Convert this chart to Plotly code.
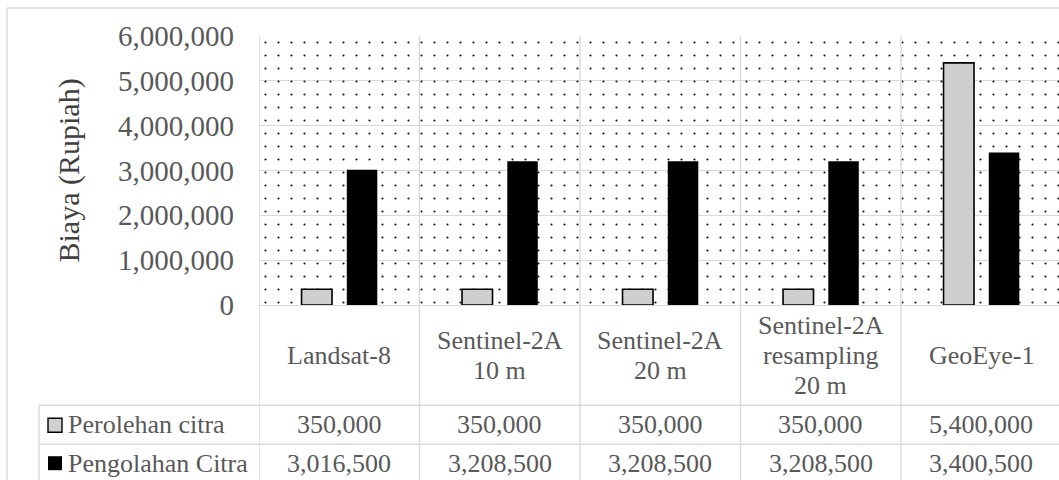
import plotly.graph_objects as go

categories = ["Landsat-8", "Sentinel-2A<br>10 m", "Sentinel-2A<br>20 m",
              "Sentinel-2A<br>resampling<br>20 m", "GeoEye-1"]
series_names = ["Perolehan citra", "Pengolahan Citra"]
perolehan = [350000, 350000, 350000, 350000, 5400000]
pengolahan = [3016500, 3208500, 3208500, 3208500, 3400500]
y_ticks = [0, 1000000, 2000000, 3000000, 4000000, 5000000, 6000000]
y_title = "Biaya (Rupiah)"

FONT = "Liberation Serif"
GRID = "#d9d9d9"
TXT = "#595959"
GRAY = "#d0cece"

W, H = 1059, 480
L, T, B_PX = 259, 36, 305.5
CAT_W = 160.5
PW = W - L
PH = B_PX - T
LINE_H = 30


def px_x(px):
    return (px - L) / PW


def px_y(py):
    return (B_PX - py) / PH


n = len(categories)
xs = list(range(n))
ymax = y_ticks[-1]

fig = go.Figure()

# dotted background pattern covering the plot area
fig.add_trace(go.Bar(
    x=[(n - 1) / 2], y=[ymax], width=[n], base=0,
    marker=dict(color="rgba(0,0,0,0)", line=dict(width=0),
                pattern=dict(shape=".", size=13, solidity=0.022,
                             fgcolor="#111111", fgopacity=1, fillmode="overlay")),
    hoverinfo="skip", showlegend=False,
))

fig.add_trace(go.Bar(
    x=xs, y=perolehan, name=series_names[0], width=0.19, offset=-0.235,
    marker=dict(color=GRAY, line=dict(color="black", width=1.6)),
    showlegend=False,
))
fig.add_trace(go.Bar(
    x=xs, y=pengolahan, name=series_names[1], width=0.19, offset=0.047,
    marker=dict(color="black", line=dict(width=0)),
    showlegend=False,
))

shapes = []
line_style = dict(color=GRID, width=1.4)
# outer chart border
shapes.append(dict(type="line", xref="paper", yref="paper",
                   x0=px_x(7), x1=px_x(1070), y0=px_y(8), y1=px_y(8), line=line_style))
shapes.append(dict(type="line", xref="paper", yref="paper",
                   x0=px_x(7), x1=px_x(7), y0=px_y(8), y1=px_y(490), line=line_style))
# vertical category separators (plot + table)
for i in range(n):
    shapes.append(dict(type="line", xref="x", yref="paper",
                       x0=i - 0.5, x1=i - 0.5, y0=1, y1=px_y(490), line=line_style))
# table horizontal lines
for py in (406, 445):
    shapes.append(dict(type="line", xref="paper", yref="paper",
                       x0=px_x(39), x1=px_x(1070), y0=px_y(py), y1=px_y(py), line=line_style))
shapes.append(dict(type="line", xref="paper", yref="paper",
                   x0=px_x(39), x1=px_x(39), y0=px_y(406), y1=px_y(490), line=line_style))
# legend keys
shapes.append(dict(type="rect", xref="paper", yref="paper",
                   x0=px_x(48), x1=px_x(62), y0=px_y(419), y1=px_y(433),
                   fillcolor=GRAY, line=dict(color="black", width=1.4)))
shapes.append(dict(type="rect", xref="paper", yref="paper",
                   x0=px_x(48), x1=px_x(62), y0=px_y(457), y1=px_y(471),
                   fillcolor="black", line=dict(color="black", width=0)))

annotations = []
annotations.append(dict(text=y_title, xref="paper", yref="paper",
                        x=px_x(68), y=0.5, textangle=-90, showarrow=False,
                        xanchor="center", yanchor="middle",
                        font=dict(family=FONT, size=30, color="#404040")))
cat_center = (B_PX + 406) / 2
row_y = [px_y(425.5), px_y(464.5)]
for i, c in enumerate(categories):
    lines = c.split("<br>")
    for k, ln in enumerate(lines):
        py = cat_center + (k - (len(lines) - 1) / 2) * LINE_H
        annotations.append(dict(text=ln, xref="x", yref="paper", x=i, y=px_y(py),
                                showarrow=False, xanchor="center", yanchor="middle",
                                font=dict(family=FONT, size=26, color=TXT)))
    for r, vals in enumerate((perolehan, pengolahan)):
        annotations.append(dict(text=f"{vals[i]:,}", xref="x", yref="paper", x=i, y=row_y[r],
                                showarrow=False, xanchor="center", yanchor="middle",
                                font=dict(family=FONT, size=26, color=TXT)))
for r, name in enumerate(series_names):
    annotations.append(dict(text=name, xref="paper", yref="paper", x=px_x(66), y=row_y[r],
                            showarrow=False, xanchor="left", yanchor="middle",
                            font=dict(family=FONT, size=26, color=TXT)))

fig.update_layout(
    width=W, height=H,
    margin=dict(l=L, r=0, t=T, b=H - B_PX, pad=0),
    paper_bgcolor="white", plot_bgcolor="white",
    barmode="overlay",
    xaxis=dict(range=[-0.5, -0.5 + PW / CAT_W], showticklabels=False, showgrid=False,
               zeroline=False, showline=False, ticks=""),
    yaxis=dict(range=[0, ymax], tickvals=y_ticks, tickformat=",d",
               showgrid=True, gridcolor=GRID, gridwidth=1.4,
               zeroline=True, zerolinecolor=GRID, zerolinewidth=1.4,
               showline=False, ticks="", ticklabelstandoff=24,
               tickfont=dict(family=FONT, size=29, color=TXT)),
    shapes=shapes, annotations=annotations,
    showlegend=False,
)

fig.write_html("out.html")
